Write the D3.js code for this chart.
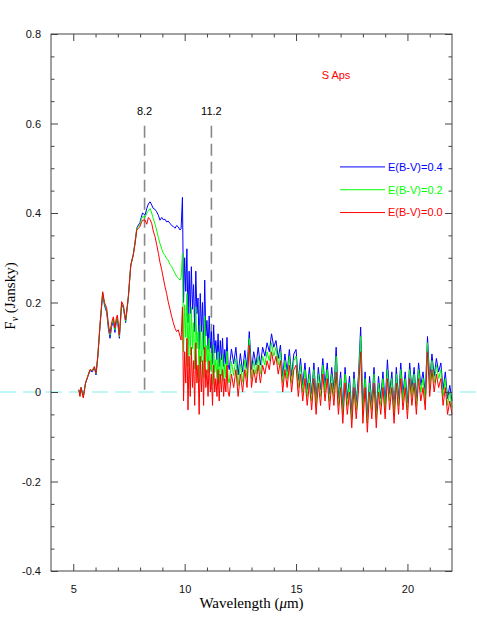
<!DOCTYPE html>
<html>
<head>
<meta charset="utf-8">
<script src="https://cdn.jsdelivr.net/npm/d3@7"></script>
<style>
  body { margin: 0; background: #fff; }
  svg { display: block; }
  .tick text { font-family: "Liberation Sans", Arial, sans-serif; font-size: 11px; fill: #111; }
</style>
</head>
<body>
<svg id="chart" width="477" height="635"></svg>
<script>
// wavelength grid (micron), shared by the three spectra
var wave = [5.25, 5.3, 5.35, 5.45, 5.55, 5.65, 5.75, 5.85, 5.95, 6.02, 6.1, 6.2, 6.32, 6.4, 6.45, 6.5, 6.58, 6.65, 6.72, 6.8, 6.87, 6.93, 6.98, 7.07, 7.17, 7.25, 7.35, 7.47, 7.58, 7.69, 7.77, 7.85, 7.92, 7.99, 8.05, 8.11,
  8.22, 8.3, 8.37, 8.45, 8.52, 8.59, 8.67, 8.74, 8.82, 8.89, 8.97, 9.04, 9.12, 9.19, 9.26, 9.34, 9.42, 9.49, 9.57, 9.64, 9.71, 9.79, 9.84,
  9.9, 9.95, 10.0, 10.05, 10.1, 10.15, 10.2, 10.25, 10.3, 10.35, 10.4, 10.45, 10.5, 10.55, 10.6, 10.65, 10.7, 10.75, 10.8, 10.85,
  10.9, 10.95, 11.0, 11.05, 11.1, 11.15, 11.2, 11.25, 11.3, 11.35, 11.4, 11.45, 11.5, 11.55, 11.6, 11.65, 11.7, 11.75, 11.8, 11.85, 11.9, 11.95,
  12.0, 12.1, 12.2, 12.3, 12.4, 12.5, 12.6, 12.7, 12.8, 12.9, 13.0, 13.1, 13.2, 13.3, 13.4, 13.5, 13.6, 13.7, 13.8, 13.9,
  14.0, 14.1, 14.2, 14.3, 14.4, 14.5, 14.6, 14.7, 14.8, 14.9, 15.0, 15.1, 15.2, 15.3, 15.4, 15.5, 15.6, 15.7, 15.8, 15.9,
  16.0, 16.1, 16.2, 16.3, 16.4, 16.5, 16.6, 16.7, 16.8, 16.9, 17.0, 17.1, 17.2, 17.3, 17.4, 17.5, 17.6, 17.7, 17.8, 17.9,
  18.0, 18.1, 18.2, 18.3, 18.4, 18.5, 18.6, 18.7, 18.8, 18.9, 19.0, 19.1, 19.2, 19.3, 19.4, 19.5, 19.6, 19.7, 19.8, 19.9,
  20.0, 20.1, 20.2, 20.3, 20.4, 20.5, 20.6, 20.7, 20.8, 20.9, 21.0, 21.1, 21.2, 21.3, 21.4, 21.5, 21.6, 21.7, 21.8, 21.9, 22.0];

// E(B-V)=0.0
var flux00 = [0.005, -0.01, 0.01, -0.013, 0.02, 0.035, 0.05, 0.048, 0.057, 0.042, 0.08, 0.15, 0.224, 0.2, 0.194, 0.187, 0.15, 0.131, 0.155, 0.168, 0.143, 0.165, 0.172, 0.127, 0.202, 0.194, 0.161, 0.213, 0.284, 0.306, 0.33, 0.362, 0.366, 0.369, 0.378, 0.384,
  0.384, 0.375, 0.39, 0.385, 0.377, 0.36, 0.347, 0.33, 0.31, 0.29, 0.273, 0.255, 0.235, 0.22, 0.202, 0.185, 0.168, 0.155, 0.142, 0.135, 0.139, 0.125, 0.116,
  0.19, -0.02, 0.09, 0.02, 0.12, -0.04, 0.08, -0.01, 0.10, 0.01, 0.07, -0.03, 0.11, 0.02, 0.06, -0.05, 0.08, 0.00, 0.07, -0.03,
  0.10, 0.01, 0.05, -0.01, 0.07, 0.00, 0.04, -0.03, 0.06, 0.00, 0.03, -0.01, 0.05, -0.02, 0.04, 0.00, 0.05, -0.01, 0.03, 0.00, 0.06, 0.00,
  -0.01, 0.04, 0.01, 0.05, -0.01, 0.04, 0.00, 0.05, 0.01, 0.105, 0.01, 0.05, 0.02, 0.06, 0.02, 0.06, 0.04, 0.07, 0.05, 0.09,
  0.06, 0.08, 0.04, 0.07, 0.00, 0.05, 0.01, 0.06, 0.00, 0.05, 0.06, -0.01, 0.04, -0.02, 0.03, -0.03, 0.02, -0.04, 0.03, -0.05,
  0.02, -0.03, 0.04, -0.02, 0.03, -0.04, 0.02, -0.03, 0.045, -0.05, 0.01, -0.07, 0.02, -0.05, 0.00, -0.08, 0.01, -0.06, 0.00, 0.09,
  -0.07, 0.01, -0.09, 0.00, -0.06, 0.02, -0.08, 0.00, -0.05, 0.01, -0.06, 0.03, -0.04, 0.01, -0.07, 0.02, -0.05, 0.03, -0.04, 0.01,
  -0.06, 0.03, -0.03, 0.02, -0.05, 0.03, -0.02, 0.01, -0.04, 0.09, -0.01, 0.05, 0.00, 0.04, 0.01, 0.03, -0.03, 0.01, -0.05, -0.02, -0.05];

// E(B-V)=0.2
var flux02 = [0.005, -0.008, 0.01, -0.012, 0.02, 0.035, 0.05, 0.047, 0.056, 0.041, 0.08, 0.15, 0.222, 0.198, 0.19, 0.183, 0.146, 0.127, 0.151, 0.164, 0.139, 0.161, 0.168, 0.124, 0.199, 0.191, 0.158, 0.211, 0.283, 0.306, 0.332, 0.364, 0.37, 0.374, 0.385, 0.392,
  0.39, 0.40, 0.405, 0.41, 0.40, 0.388, 0.375, 0.362, 0.345, 0.332, 0.32, 0.31, 0.305, 0.298, 0.295, 0.285, 0.28, 0.273, 0.265, 0.258, 0.255, 0.25, 0.255,
  0.31, 0.09, 0.195, 0.122, 0.22, 0.057, 0.175, 0.082, 0.19, 0.097, 0.155, 0.052, 0.19, 0.097, 0.135, 0.022, 0.15, 0.067, 0.135, 0.032,
  0.17, 0.067, 0.105, 0.042, 0.12, 0.049, 0.087, 0.016, 0.105, 0.044, 0.072, 0.031, 0.09, 0.019, 0.077, 0.036, 0.085, 0.024, 0.063, 0.032, 0.091, 0.03,
  0.02, 0.068, 0.037, 0.075, 0.014, 0.063, 0.022, 0.072, 0.031, 0.12, 0.03, 0.07, 0.04, 0.08, 0.04, 0.08, 0.06, 0.09, 0.07, 0.11,
  0.08, 0.10, 0.06, 0.09, 0.02, 0.07, 0.03, 0.08, 0.02, 0.07, 0.08, 0.01, 0.06, 0.00, 0.05, -0.01, 0.04, -0.02, 0.05, -0.03,
  0.04, -0.01, 0.06, 0.00, 0.05, -0.02, 0.04, -0.01, 0.08, -0.03, 0.03, -0.05, 0.04, -0.03, 0.02, -0.06, 0.03, -0.04, 0.02, 0.124,
  -0.05, 0.03, -0.07, 0.02, -0.04, 0.04, -0.06, 0.02, -0.03, 0.03, -0.04, 0.05, -0.02, 0.03, -0.05, 0.04, -0.03, 0.05, -0.02, 0.03,
  -0.04, 0.05, -0.01, 0.04, -0.03, 0.05, 0.00, 0.03, -0.02, 0.11, 0.01, 0.07, 0.02, 0.06, 0.03, 0.05, -0.01, 0.03, -0.03, 0.00, -0.035];

// E(B-V)=0.4
var flux04 = [0.005, -0.006, 0.01, -0.01, 0.02, 0.034, 0.048, 0.045, 0.054, 0.038, 0.078, 0.148, 0.22, 0.194, 0.185, 0.178, 0.14, 0.12, 0.146, 0.158, 0.133, 0.156, 0.163, 0.12, 0.196, 0.188, 0.155, 0.21, 0.282, 0.306, 0.334, 0.366, 0.373, 0.378, 0.39, 0.40,
  0.395, 0.41, 0.42, 0.425, 0.418, 0.41, 0.408, 0.403, 0.395, 0.384, 0.39, 0.385, 0.386, 0.38, 0.382, 0.377, 0.372, 0.37, 0.366, 0.372, 0.369, 0.362, 0.365,
  0.435, 0.20, 0.30, 0.225, 0.32, 0.155, 0.27, 0.175, 0.28, 0.185, 0.24, 0.135, 0.27, 0.175, 0.21, 0.095, 0.22, 0.135, 0.20, 0.095,
  0.25, 0.125, 0.16, 0.095, 0.17, 0.098, 0.135, 0.062, 0.15, 0.087, 0.115, 0.072, 0.13, 0.057, 0.115, 0.072, 0.12, 0.057, 0.095, 0.063, 0.122, 0.061,
  0.05, 0.096, 0.063, 0.10, 0.038, 0.086, 0.045, 0.093, 0.052, 0.135, 0.05, 0.09, 0.06, 0.10, 0.06, 0.10, 0.08, 0.11, 0.09, 0.13,
  0.10, 0.115, 0.075, 0.105, 0.035, 0.085, 0.045, 0.095, 0.035, 0.085, 0.095, 0.025, 0.075, 0.015, 0.065, 0.005, 0.055, -0.005, 0.065, -0.015,
  0.055, 0.005, 0.075, 0.015, 0.065, -0.005, 0.055, 0.005, 0.10, -0.015, 0.045, -0.035, 0.055, -0.015, 0.035, -0.045, 0.045, -0.025, 0.035, 0.145,
  -0.035, 0.045, -0.055, 0.035, -0.025, 0.055, -0.045, 0.035, -0.015, 0.045, -0.025, 0.072, -0.005, 0.045, -0.035, 0.055, -0.015, 0.065, -0.005, 0.045,
  -0.025, 0.065, 0.005, 0.055, -0.015, 0.065, 0.015, 0.045, -0.005, 0.124, 0.025, 0.085, 0.035, 0.075, 0.045, 0.065, 0.005, 0.045, -0.015, 0.015, -0.02];

var seriesNames = ["E(B-V)=0.4", "E(B-V)=0.2", "E(B-V)=0.0"];
var seriesColors = ["#0000ff", "#00ff00", "#ff0000"];
var xMajor = [5, 10, 15, 20];
var xMinor = [6, 7, 8, 9, 11, 12, 13, 14, 16, 17, 18, 19, 21];
var yMajor = [0.8, 0.6, 0.4, 0.2, 0, -0.2, -0.4];
var yMajorLabels = ["0.8", "0.6", "0.4", "0.2", "0", "-0.2", "-0.4"];
var yMinor = [0.75, 0.7, 0.65, 0.55, 0.5, 0.45, 0.35, 0.3, 0.25, 0.15, 0.1, 0.05, -0.05, -0.1, -0.15, -0.25, -0.3, -0.35];
var features = [8.2, 11.2];
var featureLabels = ["8.2", "11.2"];

var draw = function() {
    var svg = d3.select("#chart");
    var mLeft = 51, mRight = 452, mTop = 34, mBottom = 571;
    var x = d3.scaleLinear().domain([4, 22]).range([mLeft, mRight]);
    var y = d3.scaleLinear().domain([-0.4, 0.8]).range([mBottom, mTop]);

    // zero line (dashed cyan, across the whole page)
    svg.append("line")
        .attr("x1", 0).attr("x2", 477)
        .attr("y1", y(0)).attr("y2", y(0))
        .style("stroke", "#80f0f0").style("stroke-width", 1)
        .style("stroke-dasharray", "16,7");

    // feature markers
    features.forEach(function(f, i) {
        svg.append("line")
            .attr("x1", x(f)).attr("x2", x(f))
            .attr("y1", y(0.595)).attr("y2", y(0))
            .style("stroke", "#888").style("stroke-width", 1.6)
            .style("stroke-dasharray", "12,6");
        svg.append("text")
            .attr("x", x(f)).attr("y", y(0.62))
            .attr("text-anchor", "middle")
            .style("font-family", "Liberation Sans, Arial, sans-serif")
            .style("font-size", "11px")
            .text(featureLabels[i]);
    });

    // spectra
    var fluxes = [flux04, flux02, flux00];
    var line = d3.line()
        .x(function(d) { return x(d[0]); })
        .y(function(d) { return y(d[1]); });
    fluxes.forEach(function(f, i) {
        var pts = wave.map(function(w, j) { return [w, f[j]]; });
        svg.append("path")
            .datum(pts)
            .attr("d", line)
            .style("fill", "none")
            .style("stroke", seriesColors[i])
            .style("stroke-width", 1)
            .style("stroke-linejoin", "round");
    });

    // axes: ticks point inwards
    function styleAxis(g) {
        g.select(".domain").remove();
        g.selectAll(".tick line").style("stroke", "#444");
    }
    svg.append("g").attr("transform", "translate(" + mLeft + ",0)")
        .call(d3.axisLeft(y).tickValues(yMajor).tickSize(-7).tickPadding(10)
              .tickFormat(function(d, i) { return yMajorLabels[i]; }))
        .call(styleAxis);
    svg.append("g").attr("transform", "translate(" + mLeft + ",0)")
        .call(d3.axisLeft(y).tickValues(yMinor).tickSize(-3.5).tickFormat(""))
        .call(styleAxis);
    svg.append("g").attr("transform", "translate(" + mRight + ",0)")
        .call(d3.axisRight(y).tickValues(yMajor).tickSize(-7).tickFormat(""))
        .call(styleAxis);
    svg.append("g").attr("transform", "translate(" + mRight + ",0)")
        .call(d3.axisRight(y).tickValues(yMinor).tickSize(-3.5).tickFormat(""))
        .call(styleAxis);
    svg.append("g").attr("transform", "translate(0," + mBottom + ")")
        .call(d3.axisBottom(x).tickValues(xMajor).tickSize(-7).tickPadding(14)
              .tickFormat(d3.format("d")))
        .call(styleAxis);
    svg.append("g").attr("transform", "translate(0," + mBottom + ")")
        .call(d3.axisBottom(x).tickValues(xMinor).tickSize(-3.5).tickFormat(""))
        .call(styleAxis);
    svg.append("g").attr("transform", "translate(0," + mTop + ")")
        .call(d3.axisTop(x).tickValues(xMajor).tickSize(-7).tickFormat(""))
        .call(styleAxis);
    svg.append("g").attr("transform", "translate(0," + mTop + ")")
        .call(d3.axisTop(x).tickValues(xMinor).tickSize(-3.5).tickFormat(""))
        .call(styleAxis);

    // frame
    svg.append("rect")
        .attr("x", mLeft).attr("y", mTop)
        .attr("width", mRight - mLeft).attr("height", mBottom - mTop)
        .style("fill", "none").style("stroke", "#444").style("stroke-width", 1);

    // axis titles
    var xlab = svg.append("text")
        .attr("x", (mLeft + mRight) / 2).attr("y", 608)
        .attr("text-anchor", "middle")
        .style("font-family", "Liberation Serif, Times New Roman, serif")
        .style("font-size", "15px");
    xlab.append("tspan").text("Wavelength (");
    xlab.append("tspan").style("font-style", "italic").text("\u03bc");
    xlab.append("tspan").text("m)");

    var ylab = svg.append("text")
        .attr("transform", "translate(15,296) rotate(-90)")
        .attr("text-anchor", "middle")
        .style("font-family", "Liberation Serif, Times New Roman, serif")
        .style("font-size", "15px");
    ylab.append("tspan").text("F");
    ylab.append("tspan").attr("dy", 3).style("font-size", "10px").style("font-style", "italic").text("\u03bd");
    ylab.append("tspan").attr("dy", -3).text(" (Jansky)");

    // object name
    svg.append("text")
        .attr("x", 336).attr("y", 79)
        .attr("text-anchor", "middle")
        .style("font-family", "Liberation Sans, Arial, sans-serif")
        .style("font-size", "11px")
        .style("fill", "#ff0000")
        .text("S Aps");

    // legend
    var legendY = [0.503, 0.452, 0.401];
    seriesNames.forEach(function(n, i) {
        svg.append("line")
            .attr("x1", 340).attr("x2", 385)
            .attr("y1", y(legendY[i])).attr("y2", y(legendY[i]))
            .style("stroke", seriesColors[i]).style("stroke-width", 1);
        svg.append("text")
            .attr("x", 388).attr("y", y(legendY[i]))
            .attr("dy", "0.35em")
            .style("font-family", "Liberation Sans, Arial, sans-serif")
            .style("font-size", "11px")
            .style("fill", seriesColors[i])
            .text(n);
    });
};
draw();
</script>
</body>
</html>
